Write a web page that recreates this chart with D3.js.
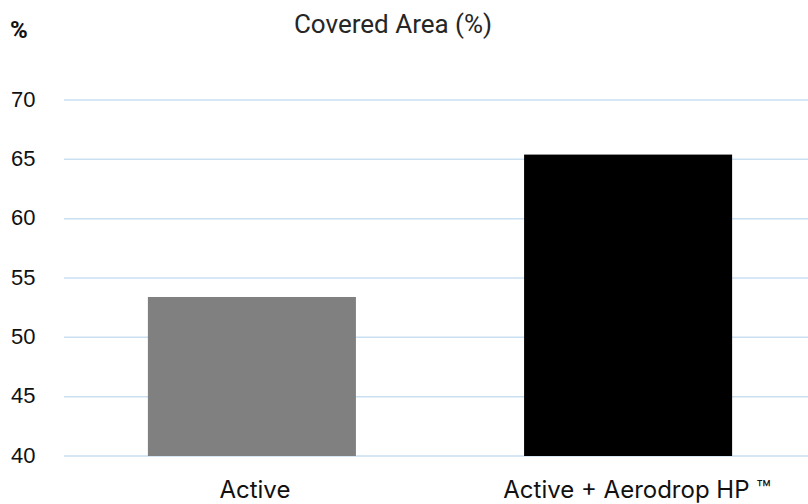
<!DOCTYPE html>
<html>
<head>
<meta charset="utf-8">
<script src="https://cdn.jsdelivr.net/npm/d3@7"></script>
<style>
  body { margin: 0; background: #fff; }
</style>
</head>
<body>
<div id="chart"></div>
<script>
const categories = ["Active", "Active + Aerodrop HP ™"];
const values = [53.4, 65.4];
const barColors = ["#808080", "#000000"];
const yTicks = [40, 45, 50, 55, 60, 65, 70];

const width = 808;
const height = 504;

const svg = d3.select("#chart").append("svg")
    .attr("width", width)
    .attr("height", height);

const x = d3.scaleBand()
    .domain(categories)
    .range([64, 816])
    .paddingInner(0.447)
    .paddingOuter(0.223);

const y = d3.scaleLinear()
    .domain([40, 70])
    .range([456, 100]);

// grid lines
svg.append("g")
    .selectAll("line")
    .data(yTicks)
    .enter().append("line")
    .attr("x1", 64)
    .attr("x2", width)
    .attr("y1", d => y(d))
    .attr("y2", d => y(d))
    .attr("stroke", "#cadff2")
    .attr("stroke-width", 1.5);

// y tick labels
svg.append("g")
    .selectAll("text")
    .data(yTicks)
    .enter().append("text")
    .attr("x", 11)
    .attr("y", d => y(d))
    .attr("dy", "0.3em")
    .style("font-family", "'Liberation Sans', Arial, sans-serif")
    .style("font-size", "22px")
    .style("fill", "#111")
    .text(d => d);

// bars
svg.append("g")
    .selectAll("rect")
    .data(values)
    .enter().append("rect")
    .attr("x", (d, i) => x(categories[i]))
    .attr("y", d => y(d))
    .attr("width", x.bandwidth())
    .attr("height", d => y(40) - y(d))
    .style("fill", (d, i) => barColors[i]);

// x labels
svg.append("g")
    .selectAll("text")
    .data(categories)
    .enter().append("text")
    .attr("x", d => x(d) + x.bandwidth() / 2)
    .attr("dx", (d, i) => i === 0 ? 3 : 9)
    .attr("y", 498)
    .attr("text-anchor", "middle")
    .style("font-family", "Inter, sans-serif")
    .style("font-size", "24px")
    .style("fill", "#111")
    .text(d => d);

svg.append("text")
    .attr("x", 393)
    .attr("y", 33)
    .attr("text-anchor", "middle")
    .style("font-family", "Roboto, sans-serif")
    .style("font-size", "26px")
    .style("fill", "#262626")
    .text("Covered Area (%)");

svg.append("text")
    .attr("x", 10)
    .attr("y", 38)
    .style("font-family", "Roboto, sans-serif")
    .style("font-size", "24px")
    .style("font-weight", "bold")
    .style("fill", "#111")
    .text("%");
</script>
</body>
</html>
